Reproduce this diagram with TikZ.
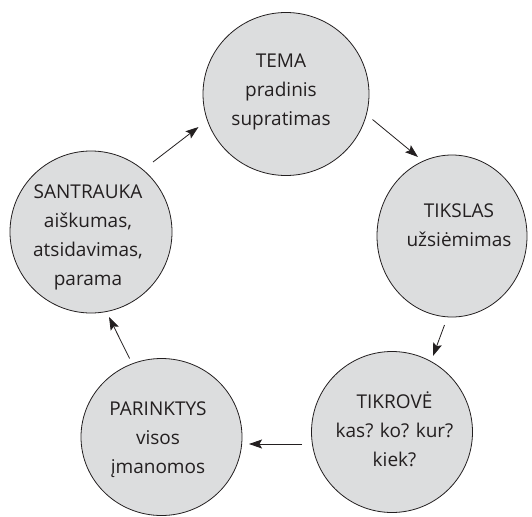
\documentclass[tikz,border=0pt]{standalone}
\usepackage{fontspec}
\setmainfont{Open Sans}
\usetikzlibrary{arrows.meta,shapes.geometric}
\definecolor{bubfill}{HTML}{DCDDDE}
\definecolor{ink}{HTML}{231F20}
\begin{document}
\begin{tikzpicture}[x=1pt,y=-1pt,
  bub/.style={draw=ink, line width=0.8pt, fill=bubfill, ellipse, inner sep=0pt},
  txt/.style={font=\fontsize{19}{29}\selectfont, text=ink, align=center, inner sep=0pt},
  arr/.style={draw=ink, line width=0.8pt, -{Stealth[length=13pt,width=9pt,inset=2.5pt]}}]
\useasboundingbox (0,0) rectangle (532,516);
% bubbles
\node[bub, minimum width=166pt, minimum height=163pt] (tema) at (286,94) {};
\node[bub, minimum width=150pt, minimum height=162pt] (tiks) at (452,236) {};
\node[bub, minimum width=161pt, minimum height=161pt] (tikr) at (392,432) {};
\node[bub, minimum width=161pt, minimum height=157pt] (pari) at (161.5,437) {};
\node[bub, minimum width=162pt, minimum height=162pt] (sant) at (91,232) {};
% texts
\node[txt] (temaT) at (281,91.5) {TEMA\\pradinis\\supratimas};
\node[txt] (tiksT) at (459,225) {TIKSLAS\\užsiėmimas};
\node[txt] (tikrT) at (394.5,429) {TIKROVĖ\\kas? ko? kur?\\kiek?};
\node[txt] (pariT) at (158,439.6) {PARINKTYS\\visos\\įmanomos};
\node[txt] (santT) at (88,237) {SANTRAUKA\\aiškumas,\\atsidavimas,\\parama};
% arrow end points
\coordinate (a1s) at (153,162);   \coordinate (a1e) at (198.5,127);
\coordinate (a2s) at (372.5,119.5); \coordinate (a2e) at (418,157);
\coordinate (a3s) at (444.5,325); \coordinate (a3e) at (433,356);
\coordinate (a4s) at (302,444);   \coordinate (a4e) at (249,444);
\coordinate (a5s) at (129.6,358.5); \coordinate (a5e) at (109,317);
\draw[arr] (a1s) -- (a1e);
\draw[arr] (a2s) -- (a2e);
\draw[arr] (a3s) -- (a3e);
\draw[arr] (a4s) -- (a4e);
\draw[arr] (a5s) -- (a5e);
\end{tikzpicture}
\end{document}
